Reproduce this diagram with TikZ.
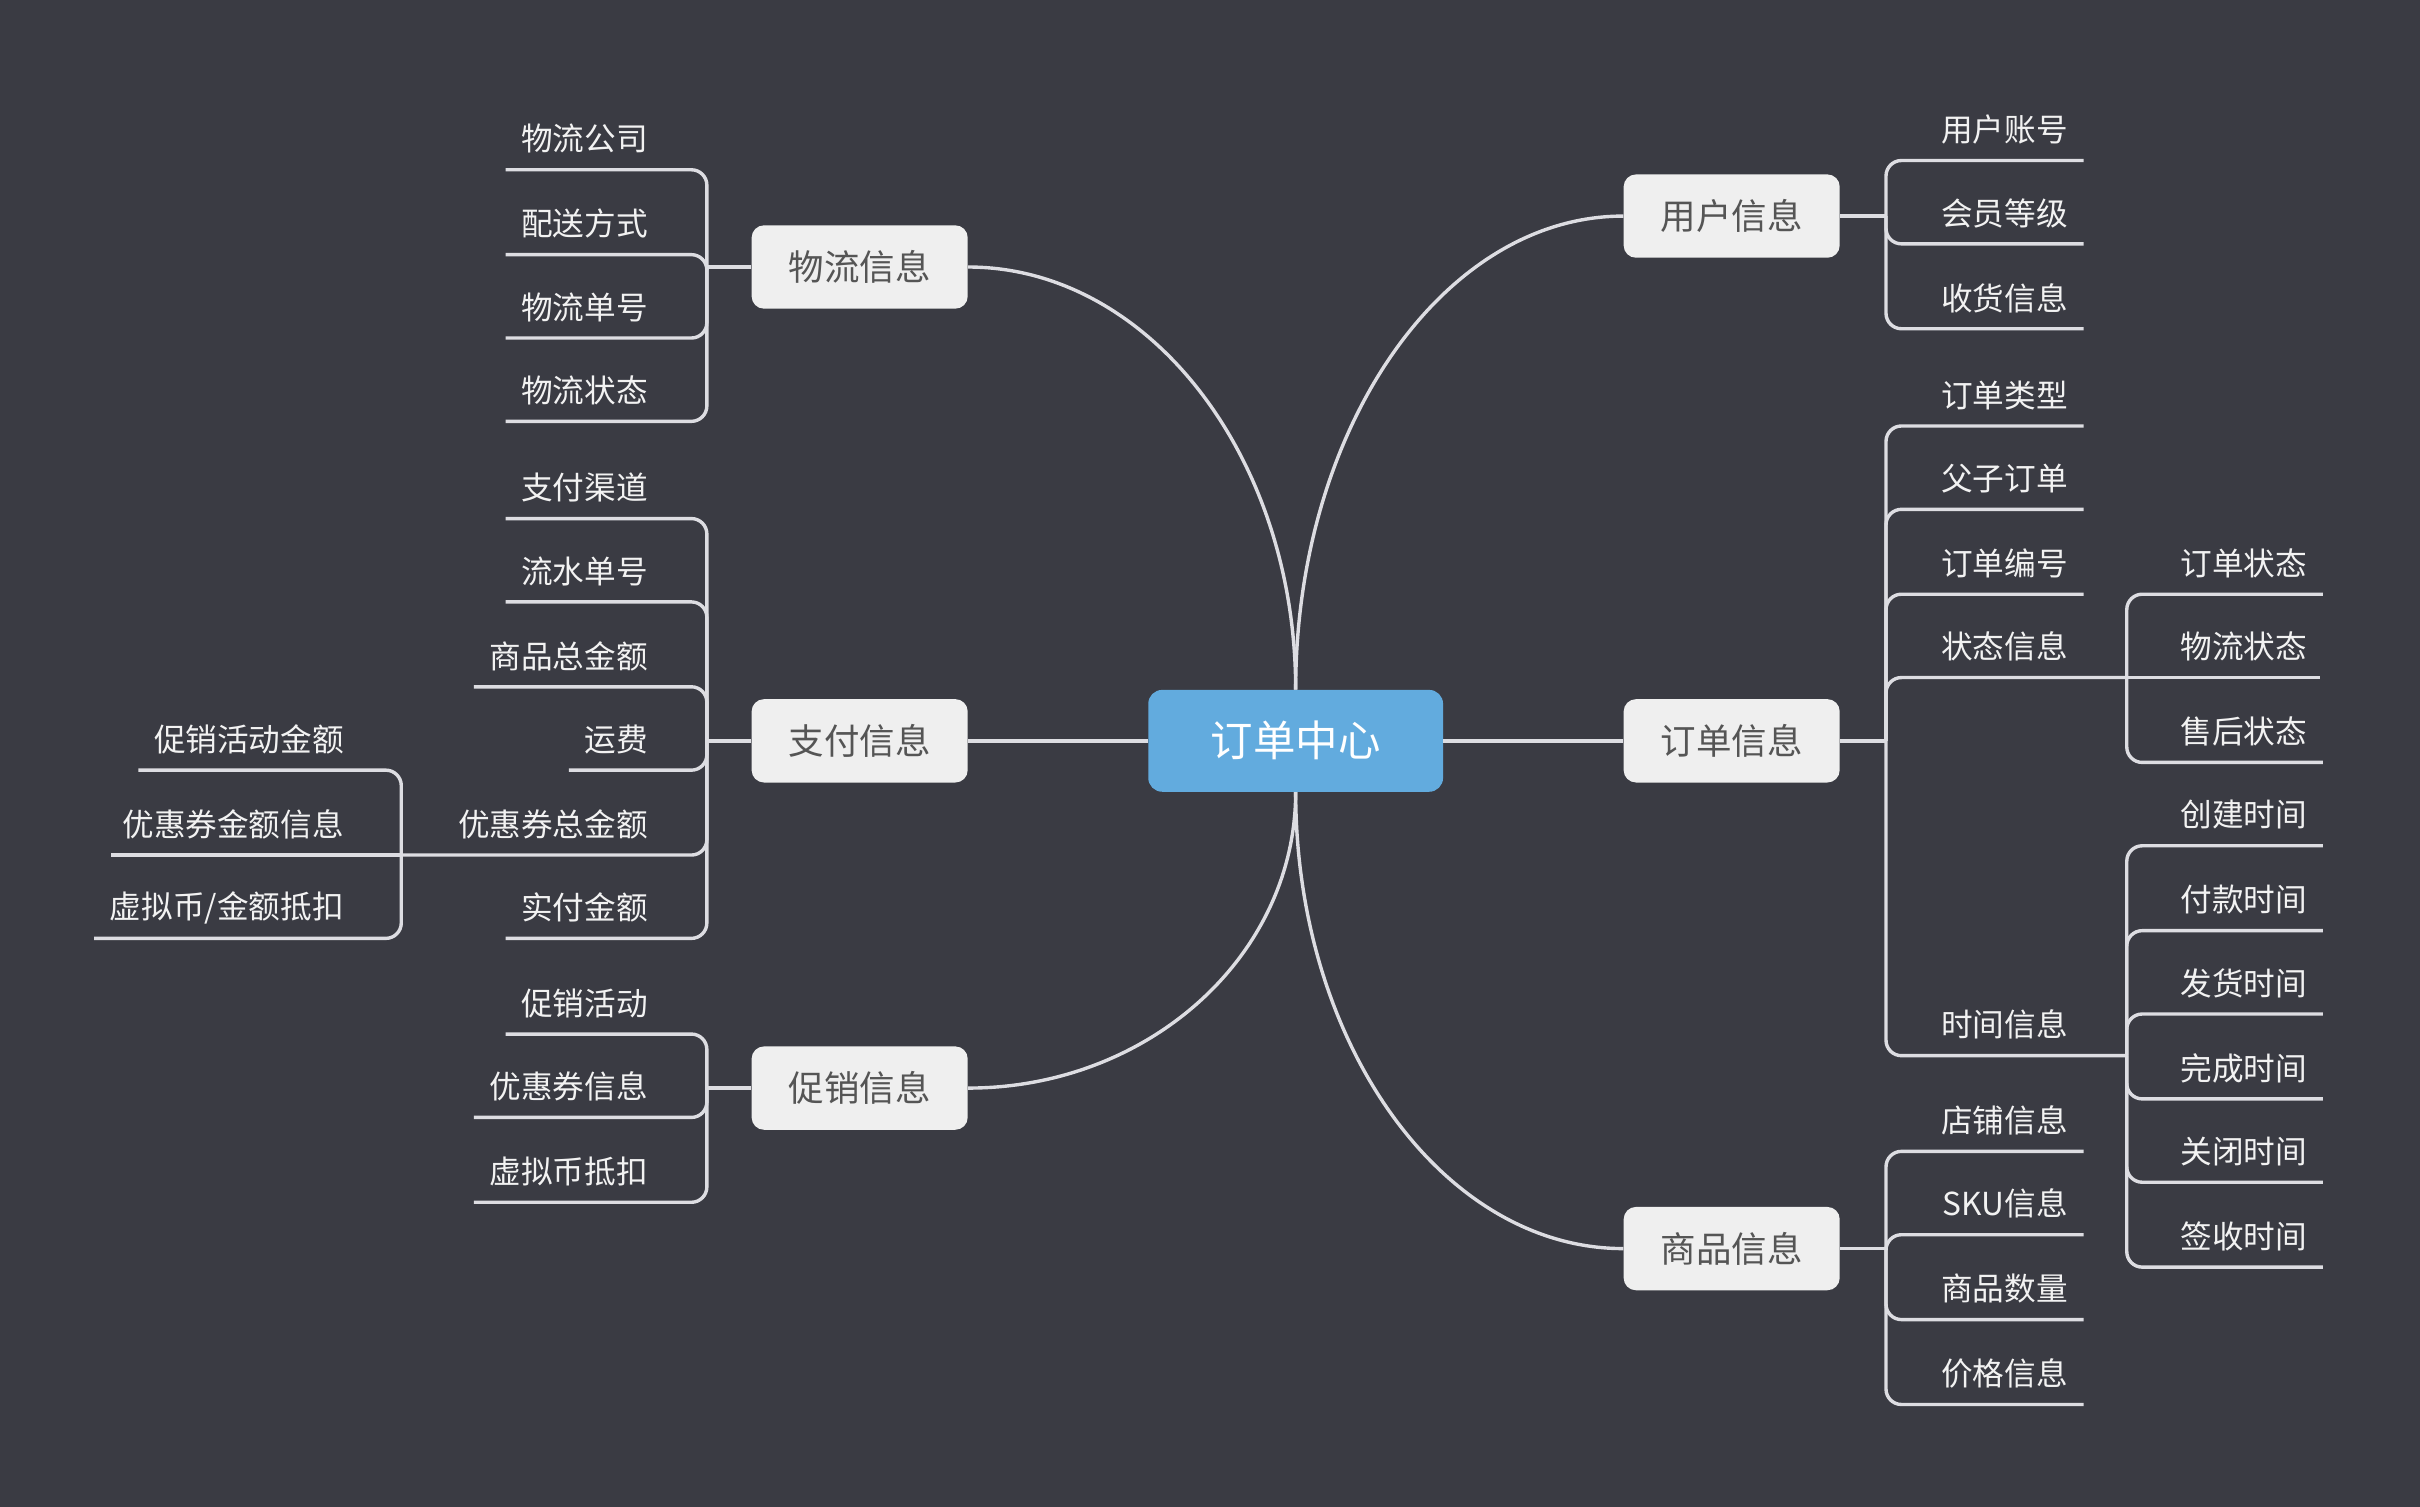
\documentclass[tikz,border=0pt]{standalone}
\usepackage{fontspec}
\setmainfont{Noto Sans CJK SC}
\definecolor{bg}{HTML}{3A3B43}
\definecolor{ln}{HTML}{DDDDE2}
\definecolor{hub}{HTML}{62ABDE}
\definecolor{boxf}{HTML}{EFEFEF}
\definecolor{boxt}{HTML}{555555}
\definecolor{leaft}{HTML}{F2F2F2}
\tikzset{
 conn/.style={draw=ln, line width=2.2bp},
 hubnode/.style={fill=hub, rounded corners=9bp, minimum width=191bp, minimum height=66bp, text=white, font=\fontsize{27.5bp}{30bp}\selectfont, inner sep=0pt},
 topic/.style={fill=boxf, rounded corners=8bp, minimum width=140bp, minimum height=54bp, text=boxt, font=\fontsize{23bp}{26bp}\selectfont, inner sep=0pt},
 leaf/.style={text=leaft, font=\fontsize{20.5bp}{24bp}\selectfont, inner sep=0pt},
}
% right leaf: name, text, underline y, bracket x, parent y, text right x
\newcommand\rleaf[6]{%
 \node[leaf,anchor=east] (#1) at (#6,#3-20) {#2};
 \ifnum#3=#5\relax
  \draw[conn] (#4,#5) -- (#1.east |- #4,#3) -- ++(8,0);
 \else
  \draw[conn,rounded corners=10bp] (#4,#5) -- (#4,#3) -- (#1.east |- #4,#3) -- ++(8,0);
 \fi}
% left leaf
\newcommand\lleaf[6]{%
 \node[leaf,anchor=east] (#1) at (#6,#3-20) {#2};
 \ifnum#3=#5\relax
  \draw[conn] (#4,#5) -- (#1.west |- #4,#3) -- ++(-7,0);
 \else
  \draw[conn,rounded corners=10bp] (#4,#5) -- (#4,#3) -- (#1.west |- #4,#3) -- ++(-7,0);
 \fi}
\begin{document}
\begin{tikzpicture}[x=1bp,y=-1bp]
\useasboundingbox (0,0) rectangle (1568,976);
\fill[bg] (-6,-6) rectangle (1574,982);

\node[hubnode] (hub) at (839.5,480) {订单中心};
\node[topic] (wl) at (557,173) {物流信息};
\node[topic] (zf) at (557,480) {支付信息};
\node[topic] (cx) at (557,705) {促销信息};
\node[topic] (yh) at (1122,140) {用户信息};
\node[topic] (dd) at (1122,480) {订单信息};
\node[topic] (sp) at (1122,809) {商品信息};

\draw[conn] (hub.north) .. controls +(0,-151) and +(117,0) .. (wl.east);
\draw[conn] (hub.north) .. controls +(0,-169) and +(-117,0) .. (yh.west);
\draw[conn] (hub.south) .. controls +(0,106) and +(117,0) .. (cx.east);
\draw[conn] (hub.south) .. controls +(0,163) and +(-117,0) .. (sp.west);
\draw[conn] (hub.west) -- (zf.east);
\draw[conn] (hub.east) -- (dd.west);

% stubs to brackets
\draw[conn] (wl.west) -- (458,173);
\draw[conn] (zf.west) -- (458,480);
\draw[conn] (cx.west) -- (458,705);
\draw[conn] (yh.east) -- (1222,140);
\draw[conn] (dd.east) -- (1222,480);
\draw[conn] (sp.east) -- (1222,809);

% 物流信息
\lleaf{w1}{物流公司}{110}{458}{173}{420}
\lleaf{w2}{配送方式}{165}{458}{173}{420}
\lleaf{w3}{物流单号}{219}{458}{173}{420}
\lleaf{w4}{物流状态}{273}{458}{173}{420}

% 支付信息
\lleaf{z1}{支付渠道}{336}{458}{480}{420}
\lleaf{z2}{流水单号}{390}{458}{480}{420}
\lleaf{z3}{商品总金额}{445}{458}{480}{420}
\lleaf{z4}{运费}{499}{458}{480}{420}
\node[leaf,anchor=east] (z5) at (420,534) {优惠券总金额};
\draw[conn,rounded corners=10bp] (458,480) -- (458,554) -- (260,554);
\lleaf{z6}{实付金额}{608}{458}{480}{420}
\lleaf{y1}{促销活动金额}{499}{260}{554}{223}
\lleaf{y2}{优惠券金额信息}{554}{260}{554}{223}
\lleaf{y3}{虚拟币/金额抵扣}{608}{260}{554}{223}

% 促销信息
\lleaf{c1}{促销活动}{670}{458}{705}{420}
\lleaf{c2}{优惠券信息}{724}{458}{705}{420}
\lleaf{c3}{虚拟币抵扣}{779}{458}{705}{420}

% 用户信息
\rleaf{u1}{用户账号}{104}{1222}{140}{1340}
\rleaf{u2}{会员等级}{158}{1222}{140}{1340}
\rleaf{u3}{收货信息}{213}{1222}{140}{1340}

% 订单信息
\rleaf{d1}{订单类型}{276}{1222}{480}{1340}
\rleaf{d2}{父子订单}{330}{1222}{480}{1340}
\rleaf{d3}{订单编号}{385}{1222}{480}{1340}
\node[leaf,anchor=east] (d4) at (1340,419) {状态信息};
\draw[conn,rounded corners=10bp] (1222,480) -- (1222,439) -- (1378,439);
\node[leaf,anchor=east] (d5) at (1340,664) {时间信息};
\draw[conn,rounded corners=10bp] (1222,480) -- (1222,684) -- (1378,684);

\rleaf{s1}{订单状态}{385}{1378}{439}{1495}
\rleaf{s2}{物流状态}{439}{1378}{439}{1495}
\rleaf{s3}{售后状态}{494}{1378}{439}{1495}

\rleaf{t1}{创建时间}{548}{1378}{684}{1495}
\rleaf{t2}{付款时间}{603}{1378}{684}{1495}
\rleaf{t3}{发货时间}{657}{1378}{684}{1495}
\rleaf{t4}{完成时间}{712}{1378}{684}{1495}
\rleaf{t5}{关闭时间}{766}{1378}{684}{1495}
\rleaf{t6}{签收时间}{821}{1378}{684}{1495}

% 商品信息
\rleaf{g1}{店铺信息}{746}{1222}{809}{1340}
\rleaf{g2}{SKU信息}{800}{1222}{809}{1340}
\rleaf{g3}{商品数量}{855}{1222}{809}{1340}
\rleaf{g4}{价格信息}{910}{1222}{809}{1340}
\end{tikzpicture}
\end{document}
